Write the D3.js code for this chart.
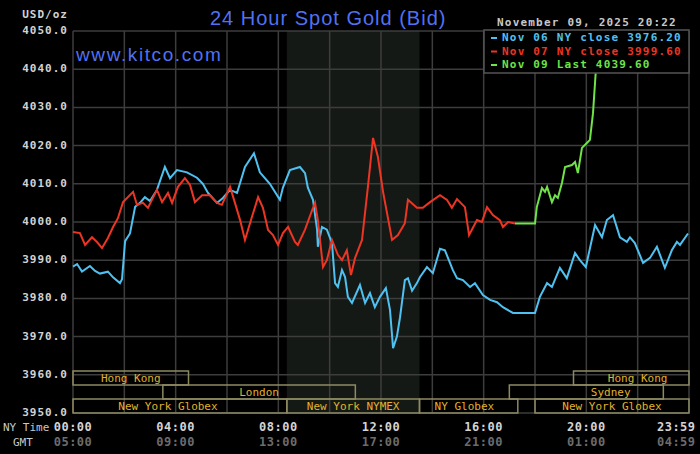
<!DOCTYPE html>
<html>
<head>
<meta charset="utf-8">
<script src="https://cdn.jsdelivr.net/npm/d3@7"></script>
<style>
  html, body { margin: 0; padding: 0; background: #000; }
  svg { display: block; }
  .mono { font-family: "DejaVu Sans Mono", monospace; }
</style>
</head>
<body>
<svg id="chart" width="700" height="454"></svg>
<script>
// 24 hour spot gold chart

// hours since midnight NY time, price
const nov06 = [
    [0, 3988.3], [0.16, 3989], [0.35, 3987], [0.66, 3988.5], [0.86, 3987.2], [1.05, 3986.5],
    [1.36, 3987], [1.56, 3985.5], [1.83, 3984], [1.91, 3985], [2.03, 3995], [2.22, 3997],
    [2.42, 4004], [2.61, 4005], [2.8, 4006.5], [3.0, 4005.5], [3.27, 4008.4], [3.58, 4014.4],
    [3.78, 4011.5], [4.05, 4013.6], [4.44, 4013], [4.83, 4011.6], [5.06, 4010], [5.26, 4007.6],
    [5.61, 4005], [5.84, 4006.3], [6.12, 4008.4], [6.39, 4007.6], [6.7, 4014.4], [7.05, 4018],
    [7.28, 4013], [7.67, 4010], [8.06, 4005.8], [8.18, 4009], [8.45, 4013.6], [8.84, 4014.4],
    [9.04, 4012.8], [9.15, 4009], [9.35, 4005.8], [9.51, 3998], [9.54, 3993.5], [9.7, 3998.7],
    [9.89, 3998], [10.09, 3994.5], [10.21, 3984], [10.32, 3983], [10.48, 3987.4], [10.6, 3985.6],
    [10.71, 3980.4], [10.87, 3978.8], [11.18, 3983.5], [11.38, 3978.8], [11.57, 3981.4],
    [11.76, 3977.7], [11.96, 3980.4], [12.19, 3982.7], [12.35, 3977], [12.47, 3967],
    [12.62, 3970], [12.74, 3975], [12.93, 3984.8], [13.05, 3985.3], [13.21, 3982], [13.4, 3984],
    [13.52, 3985.6], [13.79, 3988.2], [14.02, 3986.6], [14.3, 3993], [14.49, 3992.6],
    [14.8, 3987.4], [14.96, 3985.3], [15.19, 3984.8], [15.47, 3983], [15.66, 3984],
    [15.97, 3980.9], [16.25, 3979.6], [16.52, 3979], [16.75, 3977.7], [17.14, 3976.2],
    [18.0, 3976.2], [18.19, 3980.4], [18.47, 3984], [18.66, 3983], [18.97, 3988], [19.24, 3985.3],
    [19.56, 3991.9], [19.75, 3990], [19.98, 3988.2], [20.34, 3999.2], [20.61, 3996],
    [20.8, 4000.5], [21.04, 4001.8], [21.31, 3996], [21.58, 3994.8], [21.7, 3996], [21.89, 3994.5],
    [22.21, 3989.3], [22.48, 3990.6], [22.75, 3993.5], [23.06, 3988], [23.33, 3992.6],
    [23.53, 3994.8], [23.65, 3994], [23.96, 3997]
];

const nov07 = [
    [0, 3997.4], [0.27, 3997.1], [0.47, 3994], [0.74, 3996], [0.93, 3994.8], [1.13, 3993.2],
    [1.36, 3995.8], [1.56, 3998.7], [1.75, 4001], [1.95, 4005.2], [2.34, 4007.9], [2.49, 4004.5],
    [2.73, 4005], [2.92, 4003.7], [3.27, 4008.4], [3.47, 4005.2], [3.7, 4007.6], [3.86, 4005],
    [4.09, 4009.2], [4.36, 4011.5], [4.56, 4009.7], [4.75, 4005.2], [5.03, 4007], [5.34, 4007],
    [5.61, 4005], [5.8, 4004.5], [6.12, 4009.2], [6.31, 4005], [6.51, 4000.5], [6.7, 3995.3],
    [6.97, 4001.3], [7.21, 4006.5], [7.4, 4003.7], [7.6, 3997.9], [7.79, 3996.6], [7.99, 3994],
    [8.18, 3997.1], [8.38, 3998.7], [8.65, 3994.8], [8.76, 3994], [9.04, 3998], [9.31, 4003],
    [9.43, 4005], [9.54, 4000.5], [9.74, 3988.2], [9.89, 3990], [10.09, 3995.3], [10.32, 3991.4],
    [10.48, 3990], [10.67, 3992.6], [10.83, 3986.1], [10.99, 3990.6], [11.26, 3995.3],
    [11.49, 4009.2], [11.69, 4022], [11.88, 4017], [12.08, 4007.9], [12.43, 3995.3],
    [12.66, 3996.6], [12.93, 3999.7], [13.05, 4005.8], [13.4, 4003.7], [13.63, 4003.7],
    [13.91, 4005.2], [14.3, 4007], [14.57, 4005.8], [14.76, 4003.7], [14.96, 4006],
    [15.27, 4003.9], [15.43, 3996.6], [15.74, 4000.5], [15.93, 4000], [16.13, 4003.9],
    [16.36, 4001.8], [16.63, 4000.5], [16.75, 3998.7], [16.95, 4000], [17.22, 3999.6]
];

const nov09 = [
    [17.22, 3999.6], [18.0, 3999.6], [18.07, 4003.9], [18.27, 4008.9], [18.39, 4007.9],
    [18.47, 4009.2], [18.66, 4005.2], [18.78, 4007], [18.89, 4006.3], [19.05, 4010.2],
    [19.17, 4014.4], [19.44, 4014.9], [19.56, 4015.7], [19.67, 4012.8], [19.83, 4019.4],
    [20.02, 4020.7], [20.14, 4021.5], [20.26, 4028.5], [20.37, 4039.6]
];

const legendItems = [
    { text: "Nov 06 NY close 3976.20", color: "#4fc1f0" },
    { text: "Nov 07 NY close 3999.60", color: "#ec3523" },
    { text: "Nov 09 Last 4039.60", color: "#6fe347" }
];

const yTicks = [3950, 3960, 3970, 3980, 3990, 4000, 4010, 4020, 4030, 4040, 4050];
const xTicks = [0, 4, 8, 12, 16, 20, 23.983];
const nyLabels = ["00:00", "04:00", "08:00", "12:00", "16:00", "20:00", "23:59"];
const gmtLabels = ["05:00", "09:00", "13:00", "17:00", "21:00", "01:00", "04:59"];

// trading sessions: row 0 = top
const sessions = [
    { name: "Hong Kong", start: 0, end: 4.5, row: 0 },
    { name: "London", start: 3.5, end: 11, row: 1 },
    { name: "New York Globex", start: 0, end: 8.33, row: 2, label: 3.7 },
    { name: "New York NYMEX", start: 8.33, end: 13.5, row: 2 },
    { name: "NY Globex", start: 13.5, end: 17.33, row: 2, label: 15.25 },
    { name: "Sydney", start: 17, end: 23, row: 1, label: 20.95 },
    { name: "Hong Kong", start: 19.5, end: 24, row: 0, label: 22.0 },
    { name: "New York Globex", start: 18, end: 24, row: 2 }
];
const nymex = [8.33, 13.5];

const width = 700;
const height = 454;
const margin = { top: 31, right: 11, bottom: 41, left: 73 };

const svg = d3.select("#chart");

const x = d3.scaleLinear()
    .domain([0, 24])
    .range([margin.left, width - margin.right]);

const y = d3.scaleLinear()
    .domain([3950, 4050])
    .range([height - margin.bottom, margin.top]);

svg.append("rect")
    .attr("width", width).attr("height", height)
    .attr("fill", "#000");

// NYMEX shaded hours
svg.append("rect")
    .attr("x", x(nymex[0]))
    .attr("y", y(4050))
    .attr("width", x(nymex[1]) - x(nymex[0]))
    .attr("height", y(3950) - y(4050))
    .attr("fill", "#151915");

// grid
const grid = svg.append("g")
    .attr("stroke", "#3d3d3d")
    .attr("stroke-width", 1.5);

grid.selectAll(".hline")
    .data(yTicks)
    .join("line")
    .attr("x1", x(0)).attr("x2", x(24))
    .attr("y1", d => y(d)).attr("y2", d => y(d));

grid.selectAll(".vline")
    .data(d3.range(0, 25, 2))
    .join("line")
    .attr("x1", d => x(d)).attr("x2", d => x(d))
    .attr("y1", y(4050)).attr("y2", y(3950));

// session boxes
const rowH = 14;
const rowTop = r => y(3950) - (3 - r) * rowH;

const sess = svg.append("g");
sess.selectAll("rect")
    .data(sessions)
    .join("rect")
    .attr("x", d => x(d.start))
    .attr("y", d => rowTop(d.row))
    .attr("width", d => x(d.end) - x(d.start))
    .attr("height", rowH)
    .attr("fill", "none")
    .attr("stroke", "#8d8a62")
    .attr("stroke-width", 1.5);

sess.selectAll("text")
    .data(sessions)
    .join("text")
    .attr("class", "mono")
    .attr("x", d => x(d.label !== undefined ? d.label : (d.start + d.end) / 2))
    .attr("y", d => rowTop(d.row) + rowH / 2 + 1)
    .attr("text-anchor", "middle")
    .attr("dominant-baseline", "middle")
    .attr("fill", "#e0b22c")
    .style("font-size", "11px")
    .text(d => d.name);

// price lines
const line = d3.line()
    .x(d => x(d[0]))
    .y(d => y(d[1]));

[[nov06, legendItems[0].color], [nov07, legendItems[1].color], [nov09, legendItems[2].color]]
    .forEach(([data, color]) => {
        svg.append("path")
            .datum(data)
            .attr("fill", "none")
            .attr("stroke", color)
            .attr("stroke-width", 2)
            .attr("d", line);
    });

// y axis labels
svg.append("g")
    .selectAll("text")
    .data(yTicks)
    .join("text")
    .attr("class", "mono")
    .attr("x", margin.left - 5)
    .attr("y", d => y(d))
    .attr("text-anchor", "end")
    .attr("dominant-baseline", "middle")
    .attr("fill", "#d2d2d2")
    .style("font-size", "11px")
    .style("font-weight", "bold")
    .style("letter-spacing", "1px")
    .text(d => d.toFixed(1));

svg.append("text")
    .attr("class", "mono")
    .attr("x", margin.left - 5).attr("y", 15)
    .attr("text-anchor", "end")
    .attr("dominant-baseline", "middle")
    .attr("fill", "#d2d2d2")
    .style("font-size", "11px")
    .style("font-weight", "bold")
    .style("letter-spacing", "1px")
    .text("USD/oz");

// x axis labels
const xl = svg.append("g");
xl.selectAll(".ny")
    .data(xTicks)
    .join("text")
    .attr("class", "mono")
    .attr("x", (d, i) => i === xTicks.length - 1 ? x(d) + 7 : x(d))
    .attr("y", 431)
    .attr("text-anchor", (d, i) => i === xTicks.length - 1 ? "end" : "middle")
    .attr("fill", "#d4d4d4")
    .style("font-size", "12px")
    .style("font-weight", "bold")
    .style("letter-spacing", "0.5px")
    .text((d, i) => nyLabels[i]);

xl.selectAll(".gmt")
    .data(xTicks)
    .join("text")
    .attr("class", "mono")
    .attr("x", (d, i) => i === xTicks.length - 1 ? x(d) + 7 : x(d))
    .attr("y", 446)
    .attr("text-anchor", (d, i) => i === xTicks.length - 1 ? "end" : "middle")
    .attr("fill", "#6c6c6c")
    .style("font-size", "12px")
    .style("font-weight", "bold")
    .style("letter-spacing", "0.5px")
    .text((d, i) => gmtLabels[i]);

svg.append("text")
    .attr("class", "mono")
    .attr("x", 3).attr("y", 431)
    .attr("fill", "#c8c8c8")
    .style("font-size", "11px")
    .text("NY Time");

svg.append("text")
    .attr("class", "mono")
    .attr("x", 13).attr("y", 446)
    .attr("fill", "#c8c8c8")
    .style("font-size", "11px")
    .text("GMT");

// titles
svg.append("text")
    .attr("x", 210).attr("y", 25)
    .attr("fill", "#5171f2")
    .style("font-family", "'Liberation Sans', Arial, sans-serif")
    .style("font-size", "20px")
    .style("letter-spacing", "1px")
    .text("24 Hour Spot Gold (Bid)");

svg.append("text")
    .attr("x", 76).attr("y", 61)
    .attr("fill", "#5171f2")
    .style("font-family", "'Liberation Sans', Arial, sans-serif")
    .style("font-size", "19px")
    .style("letter-spacing", "1.6px")
    .text("www.kitco.com");

svg.append("text")
    .attr("class", "mono")
    .attr("x", 497).attr("y", 26)
    .attr("fill", "#c8c8c8")
    .style("font-size", "11px")
    .style("font-weight", "bold")
    .style("letter-spacing", "1.2px")
    .text("November 09, 2025 20:22");

// legend
const legend = svg.append("g");
legend.append("rect")
    .attr("x", 484).attr("y", 30)
    .attr("width", 205).attr("height", 43)
    .attr("fill", "#000")
    .attr("stroke", "#555")
    .attr("stroke-width", 1.5);

const rows = legend.selectAll("g")
    .data(legendItems)
    .join("g")
    .attr("transform", (d, i) => `translate(0,${38 + i * 13.5})`);

rows.append("line")
    .attr("x1", 491).attr("x2", 497)
    .attr("stroke", d => d.color)
    .attr("stroke-width", 2);

rows.append("text")
    .attr("class", "mono")
    .attr("x", 502)
    .attr("dominant-baseline", "middle")
    .attr("fill", d => d.color)
    .style("font-size", "11px")
    .style("font-weight", "bold")
    .style("letter-spacing", "1.2px")
    .text(d => d.text);
</script>
</body>
</html>
